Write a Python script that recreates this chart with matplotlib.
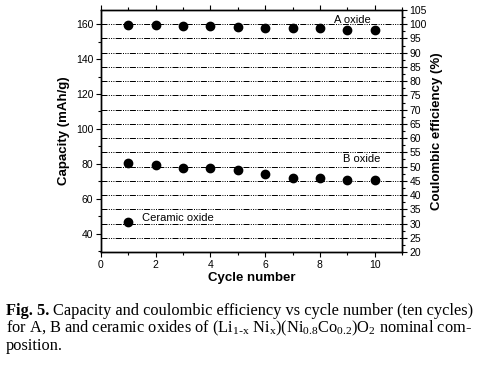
import matplotlib
matplotlib.use("Agg")
import matplotlib.pyplot as plt
from matplotlib.ticker import MultipleLocator

plt.rcParams['font.family'] = ['Liberation Sans', 'DejaVu Sans']

# capacity (mAh/g) per cycle
cycles = [1, 2, 3, 4, 5, 6, 7, 8, 9, 10]
cap_a = [159.4, 159.4, 159.0, 158.9, 158.7, 157.6, 157.6, 157.6, 156.8, 156.8]
cap_b = [80.3, 79.2, 77.6, 77.5, 76.5, 74.1, 71.8, 71.8, 70.7, 70.7]
ceramic_cycles = [1]
cap_ceramic = [46.9]

labels = ["A oxide", "B oxide", "Ceramic oxide"]
label_pos = [(8.5, 162.5), (8.85, 83.0), (1.5, 48.9)]

fig = plt.figure(figsize=(4.98, 3.72), dpi=100)
ax = fig.add_axes([0.2028, 0.3226, 0.6044, 0.6505])
ax2 = ax.twinx()

# grid lines follow the efficiency axis (every 5 %)
ax2.set_ylim(20, 105)
ax2.yaxis.set_major_locator(MultipleLocator(5))
ax2.yaxis.set_minor_locator(MultipleLocator(2.5))
ax2.grid(True, which='major', axis='y', color='black', lw=0.72,
         linestyle=(0, (6, 1.3, 1, 1.3, 1, 1.3, 1, 1.3)))
ax2.set_ylabel("Coulombic efficiency (%)", fontsize=9.5, fontweight='bold', labelpad=3)

ax.set_zorder(ax2.get_zorder() + 1)
ax.patch.set_visible(False)

ax.plot(cycles, cap_a, 'o', color='black', ms=6, clip_on=False)
ax.plot(cycles, cap_b, 'o', color='black', ms=6, clip_on=False)
ax.plot(ceramic_cycles, cap_ceramic, 'o', color='black', ms=6, clip_on=False)
for txt, (x, y) in zip(labels, label_pos):
    ax.text(x, y, txt, fontsize=8, va='center', ha='left')

ax.set_xlim(0, 11)
ax.set_ylim(29.47, 168.16)
ax.xaxis.set_major_locator(MultipleLocator(2))
ax.xaxis.set_minor_locator(MultipleLocator(1))
ax.yaxis.set_minor_locator(MultipleLocator(10))
ax.set_yticks([40, 60, 80, 100, 120, 140, 160])
ax.set_xlabel("Cycle number", fontsize=9.5, fontweight='bold', labelpad=2)
ax.set_ylabel("Capacity (mAh/g)", fontsize=9.5, fontweight='bold', labelpad=4)

for a in (ax, ax2):
    a.tick_params(which='major', direction='out', length=3.5, width=0.8, labelsize=7.5, pad=2)
    a.tick_params(which='minor', direction='out', length=2, width=0.8)
    for s in a.spines.values():
        s.set_linewidth(1.0)
ax.tick_params(axis='x', which='both', top=True)

# caption
serif = ['Liberation Serif']
fs = 11.8
cx = 0.012
t = fig.text(cx, 0.152, "Fig. 5.", fontsize=fs, fontweight='bold', family=serif, va='baseline')
fig.canvas.draw()
w = t.get_window_extent().width / fig.bbox.width
fig.text(cx + w + 0.008, 0.152,
         "Capacity and coulombic efficiency vs cycle number (ten cycles)",
         fontsize=fs, family=serif, va='baseline')
fig.text(cx, 0.106,
         r"for A, B and ceramic oxides of (Li$\mathregular{_{1\text{-}x}}$ Ni$\mathregular{_x}$)"
         r"(Ni$\mathregular{_{0.8}}$Co$\mathregular{_{0.2}}$)O$\mathregular{_2}$ nominal com-",
         fontsize=fs, family=serif, va='baseline')
fig.text(cx, 0.060, "position.", fontsize=fs, family=serif, va='baseline')

fig.savefig("out.png", dpi=100)
